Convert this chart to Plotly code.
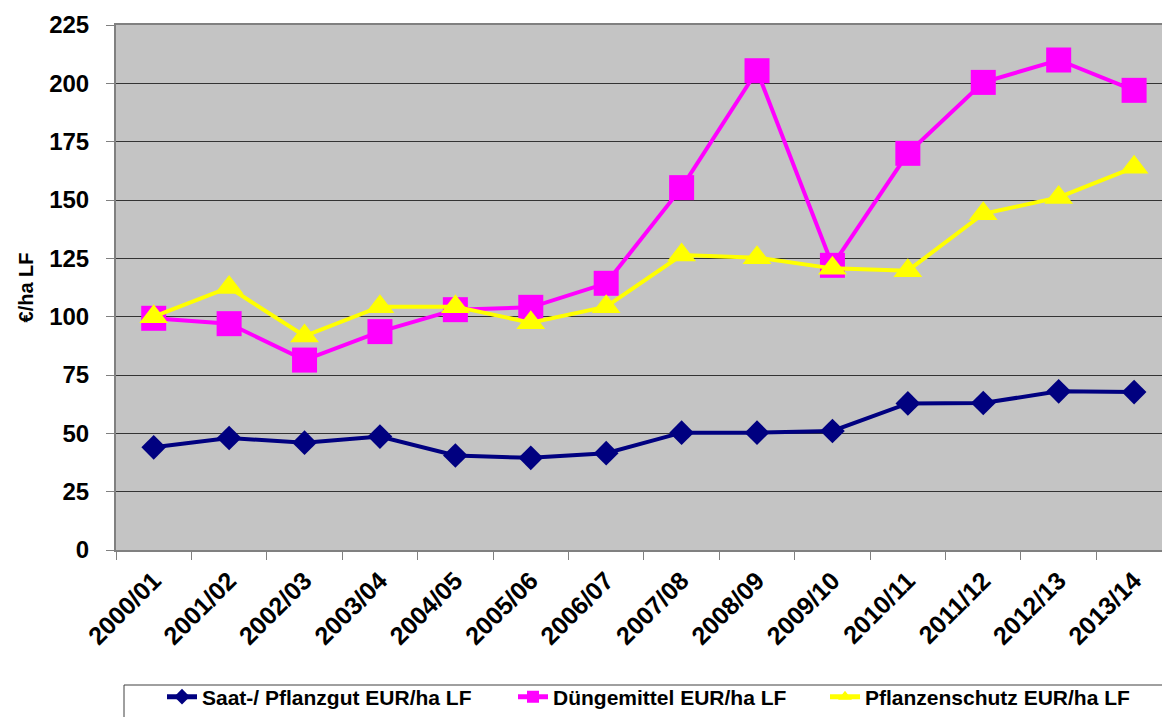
import plotly.graph_objects as go

categories = ["2000/01", "2001/02", "2002/03", "2003/04", "2004/05", "2005/06", "2006/07",
              "2007/08", "2008/09", "2009/10", "2010/11", "2011/12", "2012/13", "2013/14"]
saat = [44, 48, 46, 48.6, 40.5, 39.5, 41.5, 50.3, 50.3, 51, 62.8, 63, 68, 67.7]
duenge = [99.3, 97, 81.4, 93.6, 103, 104, 114.3, 155.3, 205.4, 122, 170, 200.4, 210, 197]
pflanzen = [100, 112.5, 91.7, 104.3, 104.3, 97.4, 104.3, 126.4, 125.3, 120.7, 119.7, 144.1, 151.1, 164]

names = ["Saat-/ Pflanzgut EUR/ha LF", "Düngemittel EUR/ha LF", "Pflanzenschutz EUR/ha LF"]
colors = ["#000080", "#FF00FF", "#FFFF00"]

W, H = 1162, 717
L, T, B = 116, 25, 550
plot_w = W - L
plot_h = B - T

def px_x(px):
    return (px - L) / plot_w

def px_y(py):
    return (B - py) / plot_h

FONT = "Arial, Liberation Sans, sans-serif"

fig = go.Figure()
fig.add_trace(go.Scatter(x=categories, y=saat, name=names[0], mode="lines+markers",
                         line=dict(color=colors[0], width=4),
                         marker=dict(symbol="diamond", size=19, color=colors[0]),
                         legend="legend", showlegend=True))
fig.add_trace(go.Scatter(x=categories, y=duenge, name=names[1], mode="lines+markers",
                         line=dict(color=colors[1], width=4),
                         marker=dict(symbol="square", size=25, color=colors[1]),
                         legend="legend2", showlegend=True))
fig.add_trace(go.Scatter(x=categories, y=pflanzen, name=names[2], mode="lines+markers",
                         line=dict(color=colors[2], width=4),
                         marker=dict(symbol="triangle-up", size=25, color=colors[2]),
                         legend="legend3", showlegend=True))

leg_common = dict(orientation="h", xanchor="left", yanchor="middle", bgcolor="rgba(0,0,0,0)",
                  borderwidth=0, itemsizing="constant",
                  font=dict(family=FONT, size=21, color="black", weight="bold"))
leg_y = px_y(697)

fig.update_layout(
    width=W, height=H,
    showlegend=True,
    margin=dict(l=L, r=0, t=T, b=H - B, pad=0, autoexpand=False),
    paper_bgcolor="white",
    plot_bgcolor="#C4C4C4",
    font=dict(family=FONT, color="black"),
    legend=dict(x=px_x(162), y=leg_y, **leg_common),
    legend2=dict(x=px_x(513), y=leg_y, **leg_common),
    legend3=dict(x=px_x(825), y=leg_y, **leg_common),
    xaxis=dict(
        type="category", range=[-0.5, 13.37], tickson="boundaries",
        ticks="outside", ticklen=8, tickcolor="#808080", tickwidth=1,
        showgrid=False, showline=True, linecolor="#808080", linewidth=2, mirror=True,
        tickangle=-45, ticklabelstandoff=4,
        tickfont=dict(family=FONT, size=25, color="black", weight="bold"),
    ),
    yaxis=dict(
        range=[0, 225], dtick=25, tick0=0,
        ticks="outside", ticklen=8, tickcolor="#808080", tickwidth=1,
        showgrid=True, gridcolor="#333333", gridwidth=1, zeroline=False,
        showline=True, linecolor="#808080", linewidth=2,
        tickfont=dict(family=FONT, size=24, color="black", weight="bold"),
        ticklabelstandoff=12,
        title=dict(text="€/ha LF", font=dict(family=FONT, size=20, color="black", weight="bold"), standoff=10),
    ),
    shapes=[dict(type="rect", xref="paper", yref="paper",
                 x0=px_x(124), x1=px_x(1175), y0=px_y(685), y1=px_y(730),
                 line=dict(color="#404040", width=1), fillcolor="rgba(0,0,0,0)", layer="below")],
)

fig.write_html("out.html", config={"displayModeBar": False},
               post_script="document.body.style.margin='0';")
